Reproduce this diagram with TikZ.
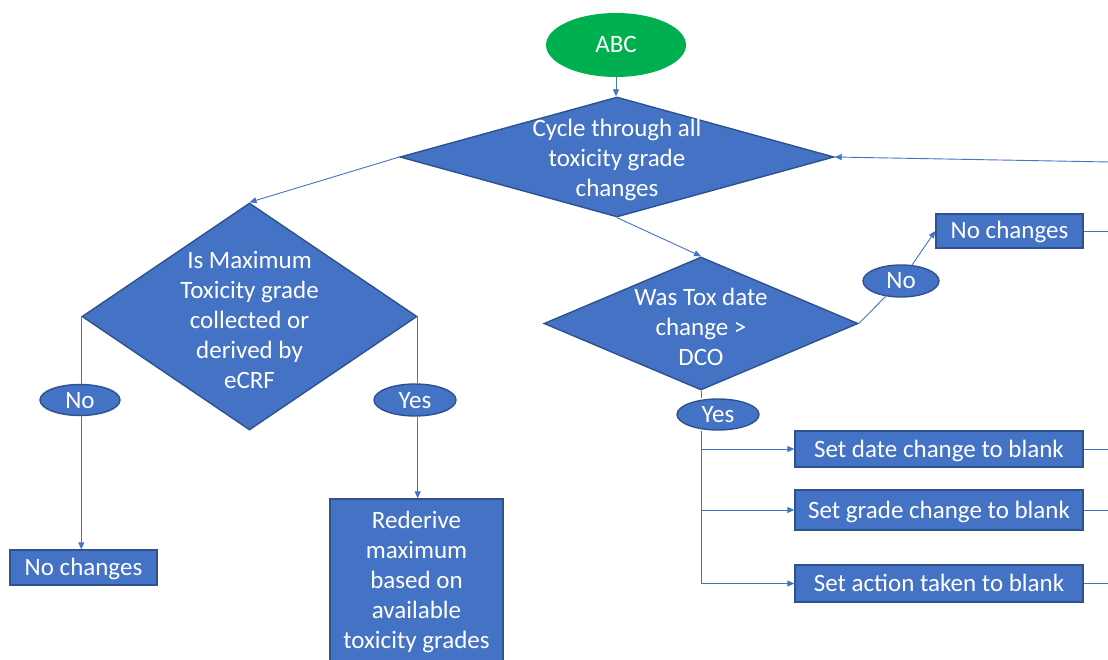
\documentclass[tikz,border=0pt]{standalone}
\usepackage{fontspec}
\setmainfont{Carlito}
\usetikzlibrary{shapes.geometric,arrows.meta}
\definecolor{fillblue}{HTML}{4472C4}
\definecolor{edgeblue}{HTML}{2F528F}
\definecolor{abcgreen}{HTML}{00B050}
\begin{document}
\begin{tikzpicture}[x=1pt,y=-1pt,
  basefont/.style={font=\fontsize{25}{30}\selectfont, text=white},
  shapeedge/.style={draw=edgeblue, fill=fillblue, line width=1.4pt},
  box/.style={shapeedge, basefont, rectangle, inner sep=0pt, text height=16pt, text depth=0pt},
  bigbox/.style={shapeedge, basefont, rectangle, inner sep=0pt, align=center},
  oval/.style={shapeedge, basefont, ellipse, inner sep=0pt, text height=16pt, text depth=0pt},
  decision/.style={shapeedge, diamond, inner sep=0pt},
  dtext/.style={basefont, align=center, inner sep=0pt},
  line/.style={draw=fillblue, line width=0.9pt},
  conn/.style={line, -{Triangle[length=7pt,width=6pt]}},
]
\clip (0,0) rectangle (1108,660);
\fill[white] (0,0) rectangle (1108,660);

% start
\node[ellipse, fill=abcgreen, basefont, minimum width=140, minimum height=64, inner sep=0pt, text height=16pt, text depth=0pt] (abc) at (616,45) {ABC};

% decisions
\node[decision, minimum width=434, minimum height=120] (d1) at (617,157) {};
\node[dtext] (d1t) at ([yshift=-3pt]d1.center) {Cycle through all\\toxicity grade\\changes};

\node[decision, minimum width=335, minimum height=227] (d2) at (249.5,316.5) {};
\node[dtext] (d2t) at ([yshift=-3pt]d2.center) {Is Maximum\\Toxicity grade\\collected or\\derived by\\eCRF};

\node[decision, minimum width=314, minimum height=133] (d3) at (701,323.5) {};
\node[dtext] (d3t) at ([yshift=-3pt]d3.center) {Was Tox date\\change >\\DCO};

% labels
\node[oval, minimum width=80, minimum height=31] (noL) at (80,400) {No};
\node[oval, minimum width=82, minimum height=32] (yesL) at (415,400) {Yes};
\node[oval, minimum width=76, minimum height=32] (noR) at (901,281) {No};
\node[oval, minimum width=82, minimum height=31] (yesR) at (718,414.5) {Yes};

% outcome boxes
\node[box, minimum width=147, minimum height=35] (ncL) at (83.5,567.5) {No changes};
\node[bigbox, minimum width=173, minimum height=166] (red) at (416.5,582) {Rederive\\maximum\\based on\\available\\toxicity grades};
\node[box, minimum width=147, minimum height=34] (ncR) at (1009.5,231) {No changes};
\node[box, minimum width=288, minimum height=36] (sd) at (939,449) {Set date change to blank};
\node[box, minimum width=288, minimum height=40] (sg) at (939,510) {Set grade change to blank};
\node[box, minimum width=288, minimum height=37] (sa) at (939,583.5) {Set action taken to blank};

% free ends at the right edge
\coordinate (loopin) at (1110,162);
\coordinate (edge) at (1110,0);

% connectors
\draw[conn] (abc.south) -- (abc.south |- d1.north);
\draw[conn] (d1.west) -- (d2.north);
\draw[conn] (d1.south) -- (d3.north);
\draw[conn] (loopin) -- (d1.east);

\draw[line] (d2.west) -- (d2.west |- noL.north);
\draw[conn] (d2.west |- noL.south) -- (d2.west |- ncL.north);
\draw[line] (d2.east) -- (d2.east |- yesL.north);
\draw[conn] (d2.east |- yesL.south) -- (d2.east |- red.north);

\draw[line] (d3.east) -- (noR);
\draw[conn] (noR) -- (ncR.west);
\draw[line] (d3.south) -- (d3.south |- yesR.north);
\coordinate (bus) at (d3.south |- yesR.south);
\draw[line] (bus) -- (bus |- sa.west);
\draw[conn] (bus |- sd.west) -- (sd.west);
\draw[conn] (bus |- sg.west) -- (sg.west);
\draw[conn] (bus |- sa.west) -- (sa.west);

\draw[line] (ncR.east) -- (ncR.east -| edge);
\draw[line] (sd.east) -- (sd.east -| edge);
\draw[line] (sg.east) -- (sg.east -| edge);
\draw[line] (sa.east) -- (sa.east -| edge);
\end{tikzpicture}
\end{document}
